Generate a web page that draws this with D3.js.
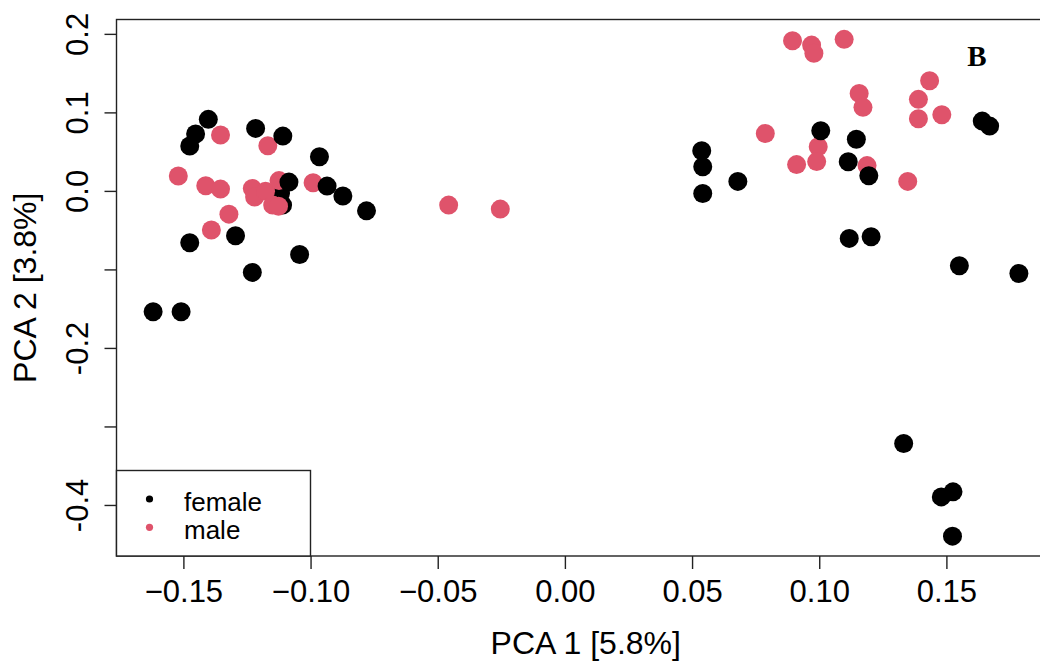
<!DOCTYPE html>
<html>
<head>
<meta charset="UTF-8">
<script src="https://d3js.org/d3.v7.min.js"></script>
<style>
  body { margin: 0; background: #fff; }
  svg { display: block; font-family: "Liberation Sans", Arial, sans-serif; }
  .frame { fill: none; stroke: #222; stroke-width: 1.4; }
  .tick line { stroke: #222; stroke-width: 1.4; }
</style>
<title>PCA by sex</title>
</head>
<body>
<div id="chart"></div>
<script>
// sample scores, listed in drawing order (later points sit on top)
var pc1 = [
  -0.1118, -0.1110,
  // male
  -0.1354, -0.1168, -0.1520, -0.1412, -0.1354, -0.1229, -0.1220, -0.1177,
  -0.1124, -0.1149, -0.1126, -0.0990, -0.1321, -0.1390, -0.0457, -0.0254,
   0.0895,  0.0970,  0.0979,  0.1098,  0.1434,  0.1157,  0.1172,  0.1390,
   0.1390,  0.1482,  0.0788,  0.0996,  0.0990,  0.0911,  0.1188,  0.1348,
  // female
  -0.1402, -0.1452, -0.1475, -0.1216, -0.1109, -0.0965, -0.1085, -0.0935,
  -0.0873, -0.0780, -0.1475, -0.1295, -0.1043, -0.1229, -0.1619, -0.1509,
   0.0538,  0.0542,  0.0542,  0.0680,  0.1006,  0.1146,  0.1114,  0.1195,
   0.1641,  0.1670,  0.1118,  0.1204,  0.1551,  0.1785,  0.1332,  0.1480,
   0.1526,  0.1524
];
var pc2 = [
  -0.0028, -0.0181,
   0.0711,  0.0575,  0.0189,  0.0065,  0.0023,  0.0032, -0.0079, -0.0003,
   0.0131, -0.0181, -0.0194,  0.0103, -0.0296, -0.0499, -0.0181, -0.0232,
   0.1912,  0.1857,  0.1752,  0.1930,  0.1403,  0.1242,  0.1064,  0.1166,
   0.0918,  0.0969,  0.0732,  0.0562,  0.0373,  0.0335,  0.0322,  0.0121,
   0.0911,  0.0724,  0.0571,  0.0796,  0.0698,  0.0434,  0.0112,  0.0061,
  -0.0066, -0.0254, -0.0661, -0.0572, -0.0809, -0.1038, -0.1540, -0.1540,
   0.0511,  0.0307, -0.0032,  0.0121,  0.0766,  0.0657,  0.0371,  0.0192,
   0.0889,  0.0825, -0.0605, -0.0585, -0.0954, -0.1051, -0.3217, -0.3897,
  -0.3833, -0.4397
];
var sex = ["female", "female"]
  .concat(d3.range(32).map(function() { return "male"; }))
  .concat(d3.range(34).map(function() { return "female"; }));

var groups = ["female", "male"];
var groupColors = ["#000000", "#DF536B"];

var xTicks = [-0.15, -0.10, -0.05, 0.00, 0.05, 0.10, 0.15];
var yTicks = [-0.4, -0.3, -0.2, -0.1, 0.0, 0.1, 0.2];
var yTickLabels = ["-0.4", "", "-0.2", "", "0.0", "0.1", "0.2"];

var xTitle = "PCA 1 [5.8%]";
var yTitle = "PCA 2 [3.8%]";
var panelLabel = "B";

var width = 1040, height = 662;
var plot = { left: 116.5, right: 1055, top: 19.5, bottom: 556 };

var x = d3.scaleLinear().domain([-0.1763, 0.1927]).range([plot.left, plot.right]);
var y = d3.scaleLinear().domain([-0.465, 0.2183]).range([plot.bottom, plot.top]);
var color = d3.scaleOrdinal().domain(groups).range(groupColors);

var svg = d3.select("#chart").append("svg")
    .attr("width", width)
    .attr("height", height);

// points
svg.append("g").selectAll("circle")
    .data(d3.range(pc1.length))
    .enter().append("circle")
    .attr("cx", function(i) { return x(pc1[i]); })
    .attr("cy", function(i) { return y(pc2[i]); })
    .attr("r", 9.5)
    .attr("fill", function(i) { return color(sex[i]); });

// axes
var xAxis = svg.append("g")
    .attr("class", "x axis")
    .attr("transform", "translate(0," + plot.bottom + ")")
    .call(d3.axisBottom(x).tickValues(xTicks).tickSize(13).tickPadding(11)
      .tickFormat(d3.format(".2f")));
xAxis.select(".domain").remove();
xAxis.selectAll("text").attr("font-size", 31).attr("fill", "#000")
    .attr("font-family", "Liberation Sans, Arial, sans-serif");

var yAxis = svg.append("g")
    .attr("class", "y axis")
    .attr("transform", "translate(" + plot.left + ",0)")
    .call(d3.axisLeft(y).tickValues(yTicks).tickSize(12)
      .tickFormat(function(d, i) { return yTickLabels[i]; }));
yAxis.select(".domain").remove();
yAxis.selectAll("text")
    .attr("font-size", 31).attr("fill", "#000")
    .attr("font-family", "Liberation Sans, Arial, sans-serif")
    .attr("x", null).attr("dy", null)
    .attr("text-anchor", "middle")
    .attr("transform", "translate(-29,0) rotate(-90)");

// frame (right side falls outside the picture)
svg.append("rect").attr("class", "frame")
    .attr("x", plot.left).attr("y", plot.top)
    .attr("width", plot.right - plot.left)
    .attr("height", plot.bottom - plot.top);

// titles
svg.append("text")
    .attr("x", (plot.left + plot.right) / 2)
    .attr("y", 654)
    .attr("text-anchor", "middle")
    .attr("font-size", 32)
    .text(xTitle);

svg.append("text")
    .attr("transform", "translate(36," + ((plot.top + plot.bottom) / 2) + ") rotate(-90)")
    .attr("text-anchor", "middle")
    .attr("font-size", 32)
    .text(yTitle);

svg.append("text")
    .attr("x", 977).attr("y", 66)
    .attr("text-anchor", "middle")
    .attr("font-family", "Liberation Serif, Times New Roman, serif")
    .attr("font-weight", "bold")
    .attr("font-size", 29)
    .text(panelLabel);

// legend, bottom left
var legend = svg.append("g");
legend.append("rect")
    .attr("x", plot.left).attr("y", 470.5)
    .attr("width", 310.5 - plot.left).attr("height", plot.bottom - 470.5)
    .attr("fill", "#fff").attr("stroke", "#222").attr("stroke-width", 1.4);

var items = legend.selectAll("g.item")
    .data(groups)
    .enter().append("g")
    .attr("class", "item")
    .attr("transform", function(d, i) { return "translate(0," + (i * 28.3) + ")"; });
items.append("circle")
    .attr("cx", 149.5).attr("cy", 499)
    .attr("r", 3.6)
    .attr("fill", function(d) { return color(d); });
items.append("text")
    .attr("x", 184).attr("y", 510.5)
    .attr("font-size", 26)
    .text(function(d) { return d; });
</script>
</body>
</html>
